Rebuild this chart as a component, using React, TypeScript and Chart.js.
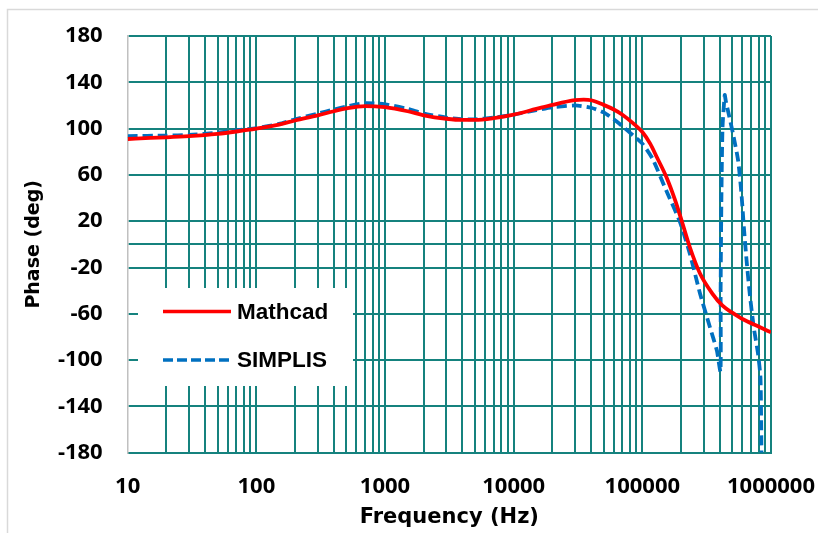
import React, { useEffect, useRef } from "react";
import { Chart, registerables } from "chart.js";

Chart.register(...registerables);

// ---- data ----
const mathcadFreq = [10, 15, 20, 30, 50, 70, 100, 150, 200, 300, 400, 500, 700, 1000, 1500, 2000, 3000, 4000, 5000, 7000, 10000, 15000, 20000, 30000, 35000, 40000, 50000, 60000, 70000, 85000, 100000, 115000, 130000, 154000, 180000, 202000, 234000, 280000, 350000, 420000, 500000, 600000, 800000, 1000000];
const mathcadPhase = [91, 92, 92.5, 93.5, 95.5, 97.5, 100, 103.5, 107, 111.5, 115, 117.5, 119.5, 118.5, 115, 111.5, 108.5, 107.5, 107.5, 109, 112, 117, 120.5, 124.5, 125, 124.5, 120.5, 116.5, 112, 104.5, 97, 87, 75, 58, 38, 20.5, -2.5, -25, -42.5, -53, -59, -64.5, -71, -76];

const simplisFreq = [10, 20, 30, 50, 70, 100, 150, 200, 300, 400, 500, 700, 1000, 1500, 2000, 3000, 4000, 5000, 7000, 10000, 15000, 20000, 30000, 40000, 50000, 60000, 70000, 85000, 100000, 120000, 154000, 195000, 234000, 280000, 334000, 380000, 405000, 406000, 412000, 420000, 437000, 445000, 464000, 508000, 556000, 590000, 615000, 646000, 684000, 735000, 794000, 828000, 838000, 843000];
const simplisPhase = [93.5, 94, 94.5, 96.5, 98.5, 100.5, 104, 108, 113, 116.5, 119, 122, 121, 117, 113, 109.5, 108, 108, 109.5, 112, 116, 118.5, 120, 118, 114, 108, 102, 94, 87, 74, 46, 20, -8, -42, -71, -92, -110, -40, 43, 101, 129, 124, 115, 95, 72, 43, 15, -14, -43, -72, -95, -115, -150, -180];

const yTickValues = [-180, -140, -100, -60, -20, 0, 20, 60, 100, 140, 180];
const xDecades = [10, 100, 1000, 10000, 100000, 1000000];
const seriesLabels = ["Mathcad", "SIMPLIS"];

const TEAL = "#15827e";
const RED = "#ff0000";
const BLUE = "#0070c0";

function buildLogTicks() {
  const out: number[] = [];
  for (let d = 10; d < 1000000; d *= 10) {
    for (let m = 1; m <= 9; m++) out.push(d * m);
  }
  out.push(1000000);
  return out;
}

const legendPlugin = {
  id: "customLegend",
  afterDraw(chart: any) {
    const ctx = chart.ctx;
    ctx.save();
    ctx.fillStyle = "#ffffff";
    ctx.fillRect(138, 288, 215, 98);
    const rows = [
      { y: 311.5, color: RED, dash: [] as number[], label: chart.data.datasets[0].label },
      { y: 360, color: BLUE, dash: [10, 4], label: chart.data.datasets[1].label },
    ];
    rows.forEach((r) => {
      ctx.beginPath();
      ctx.setLineDash(r.dash);
      ctx.strokeStyle = r.color;
      ctx.lineWidth = 3.5;
      ctx.moveTo(163, r.y);
      ctx.lineTo(231, r.y);
      ctx.stroke();
      ctx.setLineDash([]);
      ctx.fillStyle = "#000";
      ctx.font = "bold 22.5px 'Liberation Sans', Arial, sans-serif";
      ctx.textBaseline = "middle";
      ctx.textAlign = "left";
      ctx.fillText(r.label, 237, r.y + 1);
    });
    ctx.restore();
  },
};

const borderPlugin = {
  id: "outerBorder",
  beforeDraw(chart: any) {
    const ctx = chart.ctx;
    ctx.save();
    ctx.fillStyle = "#fff";
    ctx.fillRect(0, 0, chart.width, chart.height);
    ctx.strokeStyle = "#d9d9d9";
    ctx.lineWidth = 1.5;
    ctx.strokeRect(7.5, 9.5, 900, 900);
    ctx.restore();
  },
};

export default function App() {
  const ref = useRef<HTMLCanvasElement | null>(null);
  useEffect(() => {
    if (!ref.current) return;
    const chart = new Chart(ref.current, {
      type: "line",
      data: {
        datasets: [
          {
            label: seriesLabels[0],
            data: mathcadFreq.map((f, i) => ({ x: f, y: mathcadPhase[i] })),
            borderColor: RED,
            borderWidth: 3.8,
            pointRadius: 0,
            tension: 0.4,
            cubicInterpolationMode: "monotone",
            fill: false,
          },
          {
            label: seriesLabels[1],
            data: simplisFreq.map((f, i) => ({ x: f, y: simplisPhase[i] })),
            borderColor: BLUE,
            borderWidth: 3.8,
            borderDash: [10, 5],
            pointRadius: 0,
            tension: 0.2,
            fill: false,
          },
        ],
      },
      options: {
        animation: false,
        responsive: false,
        devicePixelRatio: 1,
        layout: { padding: { left: 0, top: 36, right: 47, bottom: 0 } },
        plugins: { legend: { display: false }, tooltip: { enabled: false } },
        scales: {
          x: {
            type: "logarithmic",
            position: "bottom",
            min: 10,
            max: 1000000,
            afterBuildTicks: (scale: any) => {
              scale.ticks = buildLogTicks().map((v) => ({ value: v }));
            },
            afterFit: (scale: any) => {
              scale.height = 80.3;
              scale.paddingLeft = 0;
              scale.paddingRight = 0;
            },
            ticks: {
              autoSkip: false,
              maxRotation: 0,
              minRotation: 0,
              padding: 21,
              color: "#000",
              font: { family: "'Open Sans', sans-serif", size: 22, weight: "bold" },
              callback: (v: any) => (xDecades.includes(Number(v)) ? String(v) : ""),
            },
            grid: {
              drawTicks: false,
              lineWidth: 2,
              color: (c: any) => (c.tick && c.tick.value === 10 ? "rgba(0,0,0,0)" : TEAL),
            },
            border: { color: TEAL, width: 2 },
            title: {
              display: true,
              text: "Frequency (Hz)",
              color: "#000",
              font: { family: "'DejaVu Sans', sans-serif", size: 21, weight: "bold" },
              padding: { top: 0, bottom: 3 },
            },
          },
          y: {
            min: -180,
            max: 180,
            afterBuildTicks: (scale: any) => {
              scale.ticks = yTickValues.map((v) => ({ value: v }));
            },
            afterFit: (scale: any) => {
              scale.width = 127.7;
              scale.paddingTop = 0;
              scale.paddingBottom = 0;
            },
            ticks: {
              padding: 25,
              color: "#000",
              font: { family: "'Open Sans', sans-serif", size: 22, weight: "bold" },
              callback: (v: any) => (Number(v) === 0 ? "" : String(v)),
            },
            grid: { drawTicks: false, lineWidth: 2, color: TEAL },
            border: { color: "#c0c0c0", width: 1.5 },
            title: {
              display: true,
              text: "Phase (deg)",
              color: "#000",
              font: { family: "'DejaVu Sans', sans-serif", size: 19, weight: "bold" },
              padding: { top: 23, bottom: 0 },
            },
          },
        },
      },
      plugins: [borderPlugin, legendPlugin],
    } as any);
    return () => chart.destroy();
  }, []);
  return (
    <div style={{ position: "absolute", left: 0, top: 0, width: 818, height: 533 }}>
      <canvas ref={ref} width={818} height={533} />
    </div>
  );
}
